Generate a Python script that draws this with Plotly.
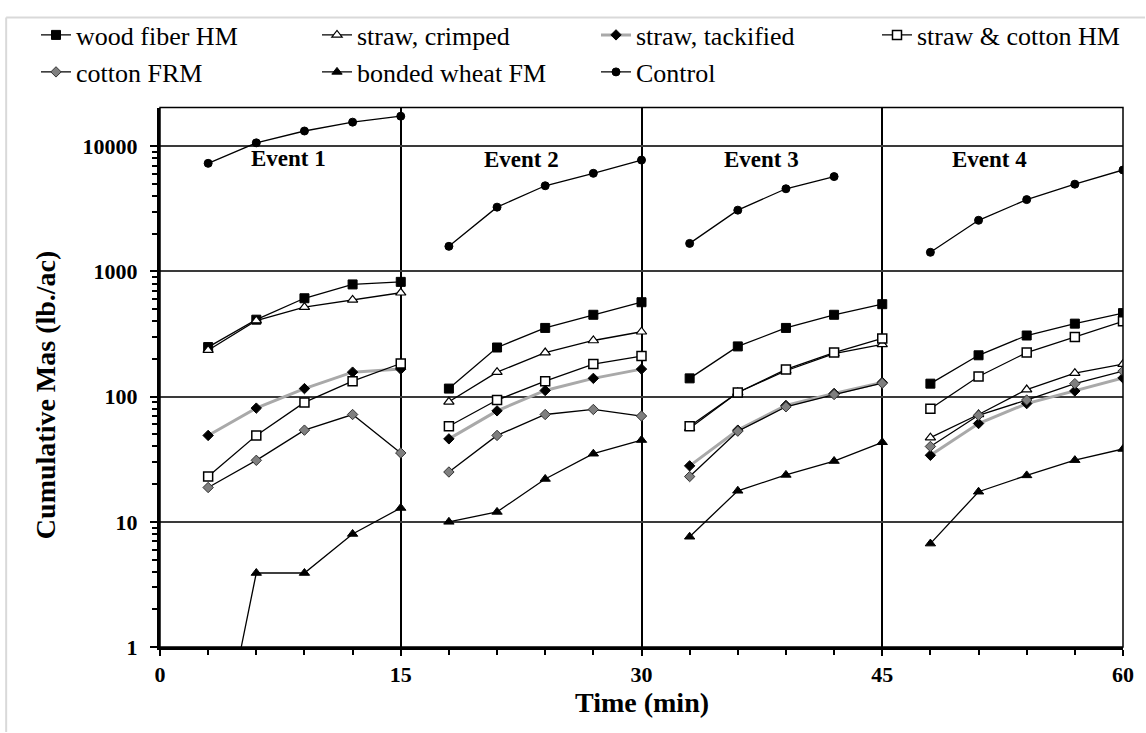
import math
import plotly.graph_objects as go

# ---------------- data ----------------
time_min = [3, 6, 9, 12, 15, 18, 21, 24, 27, 30, 33, 36, 39, 42, 45, 48, 51, 54, 57, 60]
event_size = 5

wood_fiber_hm = [249, 412, 611, 788, 826, 116, 247, 354, 451, 568,
                 140, 252, 354, 451, 548, 127, 214, 308, 383, 465]
straw_crimped = [235, 405, 519, 593, 676, 91, 157, 225, 281, 330,
                 56, 108, 161, 221, 262, 47, 72, 114, 154, 182]
straw_tackified = [49, 81, 116, 157, 166, 46, 77, 112, 140, 166,
                   28, 54, 85, 106, 130, 34, 61, 88, 111, 141]
straw_cotton_hm = [23, 49, 90, 133, 184, 58, 94, 133, 182, 211,
                   58, 108, 165, 225, 292, 80, 145, 225, 299, 400]
cotton_frm = [18.8, 31, 54, 72, 35.5, 25, 49, 72, 79, 70,
              23, 53, 83, 104, 128, 40, 71, 94, 127, 160]
bonded_wheat_fm = [0.05, 3.9, 3.9, 8.0, 12.9, 10, 12, 22, 35, 45,
                   7.6, 17.7, 23.7, 30.6, 43.2, 6.7, 17.4, 23.5, 31.1, 38.2]
control = [7310, 10660, 13250, 15600, 17400, 1588, 3265, 4840, 6085, 7760,
           1676, 3090, 4580, 5730, None, 1423, 2564, 3751, 4980, 6470]

event_labels = ["Event 1", "Event 2", "Event 3", "Event 4"]
event_label_x = [8.0, 22.5, 37.5, 51.7]
event_label_y = [8000, 7800, 7800, 7800]

x_tick_vals = [0, 15, 30, 45, 60]
y_tick_vals = [1, 10, 100, 1000, 10000]

# ---------------- helpers ----------------
def split_events(xs, ys):
    ox, oy = [], []
    for i in range(0, len(xs), event_size):
        ox += xs[i:i + event_size] + [None]
        oy += ys[i:i + event_size] + [None]
    return ox, oy

SERIF = "Liberation Serif, Times New Roman, serif"

series = [
    ("wood fiber HM", wood_fiber_hm, dict(color="black", width=1.3),
     dict(symbol="square", size=9, color="black", line=dict(color="black", width=1))),
    ("straw, crimped", straw_crimped, dict(color="black", width=1.3),
     dict(symbol="triangle-up", size=9, color="white", line=dict(color="black", width=1.2))),
    ("straw, tackified", straw_tackified, dict(color="#a9a9a9", width=3),
     dict(symbol="diamond", size=8, color="black", line=dict(color="black", width=1))),
    ("straw & cotton HM", straw_cotton_hm, dict(color="black", width=1.3),
     dict(symbol="square", size=9, color="white", line=dict(color="black", width=1.5))),
    ("cotton FRM", cotton_frm, dict(color="black", width=1.3),
     dict(symbol="diamond", size=8, color="#7f7f7f", line=dict(color="#333333", width=1))),
    ("bonded wheat FM", bonded_wheat_fm, dict(color="black", width=1.3),
     dict(symbol="triangle-up", size=9, color="black", line=dict(color="black", width=1))),
    ("Control", control, dict(color="black", width=1.3),
     dict(symbol="circle", size=8, color="black", line=dict(color="black", width=1))),
]

# legend placement (one legend per entry, laid out as in the reference)
W, H = 1146, 733
legend_cols = [36, 317, 596, 877]
legend_rows = [35, 72]
legend_slots = [(0, 0), (1, 0), (2, 0), (3, 0), (0, 1), (1, 1), (2, 1)]

fig = go.Figure()
layout_legends = {}
for i, (name, vals, line, marker) in enumerate(series):
    xs, ys = split_events(time_min, vals)
    lname = "legend" if i == 0 else f"legend{i + 1}"
    fig.add_trace(go.Scatter(x=xs, y=ys, name=name, mode="lines+markers",
                             line=line, marker=marker, connectgaps=False,
                             legend=lname, cliponaxis=True))
    c, r = legend_slots[i]
    layout_legends[lname] = dict(
        x=legend_cols[c] / W, xref="container", xanchor="left",
        y=1 - legend_rows[r] / H, yref="container", yanchor="middle",
        bgcolor="rgba(0,0,0,0)", borderwidth=0, itemwidth=30,
        font=dict(family=SERIF, size=26, color="black", weight="normal"),
        orientation="h",
    )

annotations = []
for lab, ex, ey in zip(event_labels, event_label_x, event_label_y):
    annotations.append(dict(x=ex, y=math.log10(ey), xref="x", yref="y", text=lab,
                            showarrow=False, xanchor="center", yanchor="middle",
                            font=dict(family=SERIF, size=23, color="black", weight="bold")))

annotations.append(dict(x=0.5, y=(647 - 703) / 546, xref="paper", yref="paper",
                        text="Time (min)", showarrow=False, xanchor="center", yanchor="middle",
                        font=dict(family=SERIF, size=28, color="black", weight="bold")))
annotations.append(dict(x=(45 - 160) / 964, y=(647 - 392) / 546, xref="paper", yref="paper",
                        text="Cumulative Mas (lb./ac)", showarrow=False, textangle=-90,
                        xanchor="center", yanchor="middle",
                        font=dict(family=SERIF, size=28, color="black", weight="bold")))

minor_y = [d * 10 ** k for k in range(0, 5) for d in range(2, 10) if d * 10 ** k < 20000]

fig.update_layout(
    width=W, height=H,
    margin=dict(l=160, r=22, t=101, b=86),
    paper_bgcolor="white", plot_bgcolor="white",
    font=dict(family=SERIF, color="black"),
    showlegend=True,
    annotations=annotations,
    shapes=[
        dict(type="rect", xref="paper", yref="paper", x0=0, x1=1, y0=0, y1=1,
             line=dict(color="black", width=1.5), layer="above"),
        dict(type="line", xref="paper", yref="paper",
             x0=(6 - 160) / 964, x1=(6 - 160) / 964, y0=(647 - 733) / 546, y1=(647 - 10) / 546,
             line=dict(color="#d9d9d9", width=2)),
        dict(type="line", xref="paper", yref="paper",
             x0=(6 - 160) / 964, x1=(1146 - 160) / 964, y0=(647 - 10) / 546, y1=(647 - 10) / 546,
             line=dict(color="#d9d9d9", width=2)),
    ],
    **layout_legends,
)

fig.update_xaxes(
    range=[0, 60], tickvals=x_tick_vals, ticktext=[str(v) for v in x_tick_vals],
    ticks="outside", ticklen=6, tickwidth=2, tickcolor="black",
    showline=True, linewidth=3, linecolor="black",
    showgrid=True, gridcolor="black", gridwidth=1.5, zeroline=False,
    tickfont=dict(family=SERIF, size=22, color="black", weight="bold"),
    minor=dict(dtick=3, tick0=0, ticks="outside", ticklen=5, tickwidth=2,
               tickcolor="black", showgrid=False),
)
fig.update_yaxes(
    type="log", range=[0, 4.31], tickvals=y_tick_vals, ticktext=[str(v) for v in y_tick_vals],
    ticks="outside", ticklen=7, tickwidth=2, tickcolor="black",
    showline=True, linewidth=3, linecolor="black",
    showgrid=True, gridcolor="#3a3a3a", gridwidth=1.5, zeroline=False,
    ticklabelstandoff=8,
    tickfont=dict(family=SERIF, size=22, color="black", weight="bold"),
    minor=dict(tickvals=minor_y, ticks="outside", ticklen=5, tickwidth=1.5,
               tickcolor="black", showgrid=False),
)

fig.write_html("out.html")
